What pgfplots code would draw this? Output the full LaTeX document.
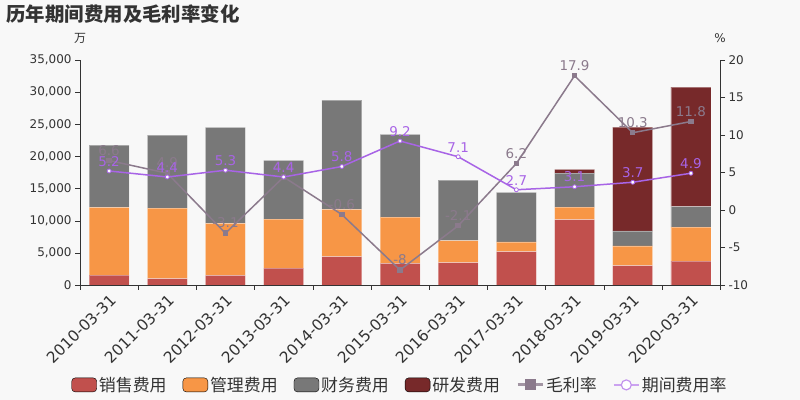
\documentclass[border=0pt]{standalone}
\usepackage{fontspec}
\setmainfont{DejaVu Sans}
\newfontfamily\cjk{Noto Sans CJK SC}
\usepackage{pgfplots}
\pgfplotsset{compat=1.18}

\definecolor{bg}{RGB}{248,248,248}
\definecolor{txt}{RGB}{51,51,51}
\definecolor{sales}{RGB}{193,80,77}
\definecolor{admin}{RGB}{247,150,70}
\definecolor{fin}{RGB}{120,120,120}
\definecolor{rd}{RGB}{119,41,42}
\definecolor{gm}{RGB}{139,122,140}
\definecolor{pr}{RGB}{168,100,230}

\pgfplotsset{
  /pgf/number format/assume math mode=true,
  swatch/.style={legend image code/.code={\fill[##1,rounded corners=3.5bp] (0bp,-7bp) rectangle (25bp,7bp);}},
  linelegend/.style={legend image code/.code={\draw[##1, mark repeat=2, mark phase=2] plot coordinates {(0bp,0bp) (12.5bp,0bp) (25bp,0bp)};}},
  base/.style={
    scale only axis, width=640bp, height=225bp,
    at={(80bp,115bp)}, anchor=south west,
    xmin=-0.5, xmax=10.5,
    tick align=outside, major tick length=5bp, minor tick length=5bp,
    tick style={color=txt}, axis line style={color=txt},
    tick label style={text=txt},
    y tick label style={font=\fontsize{12}{14}\selectfont},
  },
}

\begin{document}
\begin{tikzpicture}
\path[use as bounding box, fill=bg] (0,0) rectangle (800bp,400bp);
\node[anchor=west, text=txt, font=\cjk\bfseries\fontsize{19.5}{22}\selectfont] at (3bp,386bp) {历年期间费用及毛利率变化};
\node[text=txt, font=\cjk\fontsize{12}{14}\selectfont] at (80bp,362bp) {万};
\node[text=txt, font=\fontsize{12}{14}\selectfont] at (720bp,362bp) {\%};

\begin{axis}[base,
  ymin=0, ymax=35000,
  ybar stacked, bar width=40bp,
  axis x line*=bottom, axis y line*=left,
  xtick={0,...,10},
  xticklabels={2010-03-31,2011-03-31,2012-03-31,2013-03-31,2014-03-31,2015-03-31,2016-03-31,2017-03-31,2018-03-31,2019-03-31,2020-03-31},
  major x tick style={draw=none},
  minor xtick={-0.5,0.5,...,10.5},
  x tick label style={rotate=45, anchor=north east, inner sep=2bp, font=\fontsize{15.5}{17}\selectfont},
  ytick={0,5000,...,35000}, scaled y ticks=false,
  y tick label style={/pgf/number format/.cd, 1000 sep={,}},
  every axis plot/.append style={draw=white, draw opacity=0.35, line width=0.8bp},
]
\addplot[fill=sales] coordinates {(0,1555) (1,980) (2,1500) (3,2640) (4,4400) (5,3370) (6,3470) (7,5180) (8,10160) (9,3000) (10,3730)};
\addplot[fill=admin] coordinates {(0,10530) (1,10995) (2,8090) (3,7620) (4,7370) (5,7205) (6,3420) (7,1510) (8,1970) (9,3070) (10,5290)};
\addplot[fill=fin] coordinates {(0,9685) (1,11355) (2,14930) (3,9130) (4,17000) (5,12855) (6,9440) (7,7730) (8,5290) (9,2330) (10,3160)};
\addplot[fill=rd] coordinates {(0,0) (1,0) (2,0) (3,0) (4,0) (5,0) (6,0) (7,0) (8,570) (9,16170) (10,18610)};
\end{axis}

\begin{axis}[base,
  ymin=-10, ymax=20,
  axis x line=none, axis y line*=right,
  ytick={-10,-5,...,20},
  nodes near coords,
  every node near coord/.append style={anchor=south, yshift=1bp, font=\fontsize{13.5}{15}\selectfont},
  legend columns=-1,
  legend style={draw=none, fill=none, text=txt, font=\cjk\fontsize{17}{19}\selectfont,
    at={(0.5,-0.444)}, anchor=center,
    /tikz/every even column/.append style={column sep=14bp}},
]
\addlegendimage{swatch, fill=sales}
\addlegendimage{swatch, fill=admin}
\addlegendimage{swatch, fill=fin}
\addlegendimage{swatch, fill=rd}
\addlegendimage{linelegend, color=gm!80, line width=3bp, mark=square*, mark size=4bp, mark options={color=gm}}
\addlegendimage{linelegend, color=pr!60, line width=2bp, mark=*, mark size=5bp, mark options={fill=white, draw=pr!70, line width=1.2bp}}
\addplot[forget plot, color=gm, line width=1.5bp, mark=square*, mark size=2bp,
  every node near coord/.append style={text=gm}] coordinates {(0,6.6) (1,4.9) (2,-3.1) (3,4.4) (4,-0.6) (5,-8) (6,-2.1) (7,6.2) (8,17.9) (9,10.3) (10,11.8)};
\addplot[forget plot, color=pr, line width=1.5bp, mark=*, mark size=2bp, mark options={fill=white, line width=0.8bp},
  every node near coord/.append style={text=pr}] coordinates {(0,5.2) (1,4.4) (2,5.3) (3,4.4) (4,5.8) (5,9.2) (6,7.1) (7,2.7) (8,3.1) (9,3.7) (10,4.9)};
\legend{销售费用,管理费用,财务费用,研发费用,毛利率,期间费用率}
\end{axis}
\end{tikzpicture}
\end{document}
